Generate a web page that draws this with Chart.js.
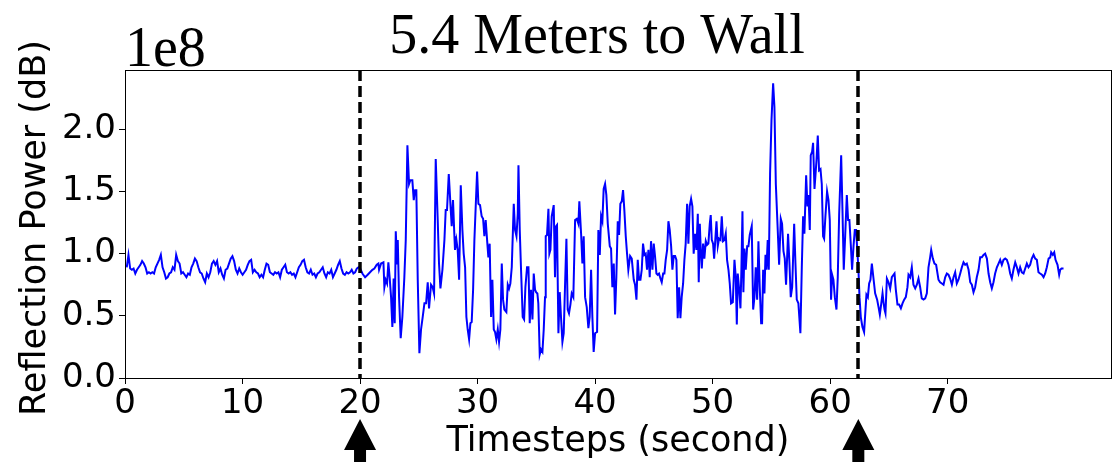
<!DOCTYPE html>
<html>
<head>
<meta charset="utf-8">
<script src="https://cdn.jsdelivr.net/npm/chart.js@4/dist/chart.umd.min.js"></script>
<style>
  html, body { margin: 0; padding: 0; background: #fff; }
  #wrap { width: 1114px; height: 462px; }
</style>
</head>
<body>
<div id="wrap"><canvas id="chart" width="1114" height="462"></canvas></div>
<script>
// Reflection power (units of 1e8) over time.
// Quiet period before the first marker: evenly sampled from BASE_T0 with BASE_DT.
var BASE_T0 = 0.15;
var BASE_DT = 0.145;
var baseVals = [
	0.89,0.99,0.88,0.87,0.88,0.84,0.87,0.89,0.91,0.94,
	0.92,0.89,0.84,0.85,0.84,0.85,0.84,0.89,0.92,0.95,
	0.99,0.89,0.85,0.80,0.81,0.84,0.85,0.89,0.87,0.99,
	0.94,0.92,0.84,0.85,0.83,0.81,0.84,0.83,0.89,0.92,
	0.96,0.94,0.89,0.85,0.84,0.80,0.77,0.84,0.81,0.85,
	0.92,0.94,0.91,0.94,0.85,0.88,0.83,0.80,0.87,0.88,
	0.92,0.96,0.98,0.94,0.87,0.84,0.88,0.85,0.83,0.85,
	0.87,0.91,0.94,0.95,0.85,0.87,0.85,0.84,0.81,0.83,
	0.81,0.87,0.92,0.91,0.85,0.84,0.83,0.85,0.84,0.85,
	0.81,0.87,0.89,0.91,0.85,0.84,0.85,0.83,0.84,0.81,
	0.85,0.89,0.91,0.94,0.95,0.89,0.85,0.84,0.87,0.83,
	0.84,0.81,0.84,0.85,0.87,0.89,0.84,0.81,0.85,0.84,
	0.87,0.81,0.84,0.87,0.91,0.94,0.88,0.84,0.83,0.85,
	0.84,0.85,0.87,0.84,0.85,0.88,0.89,0.88
];

// Person walking between the two markers.
var burstT = [
	20.20,20.43,20.65,20.85,21.05,21.22,21.42,21.56,21.62,21.79,21.99,22.07,22.18,22.30,22.41,22.52,22.64,22.75,22.86,22.95,
	23.04,23.15,23.21,23.32,23.46,23.60,23.77,23.89,24.03,24.17,24.28,24.45,24.57,24.68,24.79,24.91,25.05,25.19,25.33,25.48,
	25.62,25.76,25.87,26.04,26.18,26.30,26.44,26.61,26.72,26.84,27.01,27.18,27.29,27.40,27.55,27.69,27.80,27.91,28.03,28.08,
	28.20,28.31,28.43,28.57,28.71,28.82,28.94,29.05,29.16,29.28,29.39,29.50,29.62,29.73,29.96,30.07,30.21,30.35,30.47,30.58,
	30.69,30.81,30.92,31.03,31.15,31.26,31.38,31.49,31.60,31.72,31.83,31.94,32.06,32.17,32.28,32.45,32.57,32.68,32.79,32.91,
	33.08,33.19,33.31,33.42,33.48,33.59,33.70,33.84,33.96,34.07,34.21,34.33,34.44,34.55,34.67,34.78,34.89,
	34.98,35.09,35.17,35.29,35.40,35.52,35.63,35.74,35.80,35.91,36.03,36.11,36.20,36.31,36.48,36.59,36.68,36.76,36.88,36.99,
	37.10,37.22,37.33,37.44,37.56,37.67,37.78,37.90,38.01,38.15,38.30,38.44,38.58,38.66,38.81,38.92,39.03,39.15,39.29,39.43,
	39.54,39.66,39.77,39.88,40.00,40.17,40.28,40.40,40.51,40.62,40.73,40.85,40.96,41.08,41.25,41.36,41.47,41.59,41.70,41.81,
	41.93,42.04,42.15,42.27,42.38,42.49,42.61,42.72,42.83,42.98,43.12,43.29,43.40,43.52,43.63,43.74,43.86,43.97,44.08,44.20,
	44.31,44.42,44.54,44.65,44.76,44.88,44.99,45.10,45.22,45.33,45.44,45.56,45.67,45.79,45.90,46.01,46.13,46.24,46.35,46.47,
	46.58,46.69,46.81,46.92,47.03,47.15,47.26,47.37,47.49,47.60,47.71,47.83,47.94,48.05,48.17,48.28,48.39,
	48.51,48.62,48.74,48.82,48.91,48.99,49.08,49.19,49.30,49.42,49.53,49.64,49.76,49.84,49.93,50.04,50.13,50.21,50.33,50.44,
	50.55,50.67,50.78,50.89,51.01,51.12,51.23,51.35,51.46,51.57,51.72,51.86,51.97,52.06,52.14,52.26,52.37,52.45,52.54,52.62,
	52.71,52.82,52.94,53.05,53.16,53.33,53.45,53.56,53.67,53.79,53.90,54.01,54.13,54.21,54.30,54.41,54.50,54.58,54.69,54.78,
	54.89,55.01,55.15,55.26,55.38,55.52,55.66,55.80,55.91,56.03,56.14,56.25,56.42,56.54,56.65,56.77,56.94,57.05,57.16,57.30,
	57.47,57.59,57.70,57.81,57.96,58.07,58.16,58.27,58.35,58.47,58.55,58.67,58.84,58.95,59.06,59.18,59.29,59.40,59.49,59.60,
	59.74,59.86,59.97,60.08,60.17,60.28,60.40,60.54,60.65,60.77,60.94,61.05,61.16,61.28,61.42,61.53,61.64,61.76,61.87,61.99,
	62.10,62.21,62.33
];
var burstV = [
	0.84,0.81,0.83,0.85,0.87,0.88,0.91,0.92,0.87,0.92,0.93,0.73,0.79,0.76,0.93,0.81,0.65,0.41,0.80,0.44,
	1.18,0.92,1.11,0.65,0.32,0.49,0.81,1.11,1.87,1.56,1.59,1.59,1.43,1.51,1.51,0.79,0.20,0.39,0.49,0.60,
	0.60,0.77,0.56,0.75,0.73,0.68,1.76,1.27,0.92,0.72,0.87,1.11,1.35,1.35,1.64,1.40,1.22,1.43,1.14,1.03,
	1.11,1.03,0.79,1.55,1.19,1.00,0.89,0.49,0.39,0.31,0.44,0.45,0.71,1.11,1.66,1.40,1.39,1.30,1.28,1.14,
	1.27,1.11,0.97,1.08,0.49,0.79,0.39,0.37,0.31,0.39,0.29,0.39,0.92,0.63,0.55,0.53,0.75,0.72,0.76,0.89,
	1.40,1.19,1.14,1.32,1.71,1.19,0.87,0.49,0.47,0.73,0.89,0.89,0.44,0.71,0.47,0.84,0.71,
	0.69,0.68,0.60,0.19,0.23,0.21,0.39,0.65,1.14,1.15,1.36,1.00,1.03,1.30,1.39,0.81,1.22,1.23,0.36,0.69,
	0.49,0.29,0.36,0.73,1.12,0.55,0.52,0.59,0.68,0.65,1.27,1.28,1.24,1.42,1.16,0.92,1.14,0.65,0.57,0.40,
	0.49,0.87,0.49,0.21,0.36,0.37,1.19,0.99,1.30,1.26,1.52,1.56,1.47,1.24,1.06,1.04,0.73,0.92,0.51,0.81,
	1.26,1.15,1.40,1.42,1.51,1.35,1.14,1.00,0.87,0.98,0.96,0.79,0.75,0.63,0.95,0.79,0.79,0.87,1.08,0.99,
	1.00,0.87,1.03,0.81,1.10,0.87,1.08,0.98,0.84,0.83,0.84,0.80,0.77,0.84,0.84,0.95,1.03,1.26,1.19,1.06,
	0.87,0.98,0.98,0.95,0.48,0.73,0.48,0.65,0.76,0.95,1.08,1.40,1.08,1.38,1.44,1.38,1.00,
	1.16,1.03,1.32,0.77,1.24,1.03,0.88,1.08,0.96,1.10,1.07,1.08,1.24,1.31,1.11,1.08,0.96,1.08,1.26,1.06,
	1.12,1.11,1.30,1.10,1.11,1.16,0.95,0.87,0.76,0.60,0.61,0.95,0.81,0.43,0.84,0.71,0.56,0.87,1.34,0.69,
	1.04,0.87,1.06,1.06,1.15,1.22,0.55,0.65,0.89,0.63,1.10,0.73,0.44,0.44,0.87,0.68,0.99,0.87,1.11,0.87,
	1.64,2.07,2.37,2.18,1.56,1.24,0.91,1.28,1.24,1.02,0.96,0.75,1.16,0.92,0.65,0.73,1.24,0.92,0.63,0.60,
	0.36,0.89,1.30,1.16,1.63,1.38,1.47,1.19,1.79,1.82,1.89,1.52,1.75,1.95,1.67,1.68,1.56,1.14,1.12,1.30,
	1.50,1.43,1.27,0.63,0.83,0.79,0.65,0.55,0.81,1.32,1.79,1.35,0.87,1.14,1.47,1.27,1.27,1.07,0.87,1.06,
	1.19,1.19,1.00
];

// Settling after the second marker.
var tailT = [
	62.41,62.50,62.61,62.75,62.89,63.01,63.09,63.21,63.32,63.43,63.55,63.69,63.83,64.00,64.12,64.23,64.34,64.46,64.54,64.63,
	64.71,64.83,64.97,65.11,65.25,65.48,65.59,65.73,65.87,66.02,66.16,66.30,66.44,66.58,66.67,66.81,66.95,67.09,67.24,67.38,
	67.52,67.66,67.80,67.95,68.09,68.23,68.37,68.51,68.60,68.74,68.88,69.02,69.22,69.36,69.51,69.65,69.79,69.93,70.07,70.21,
	70.36,70.50,70.64,70.78,70.92,71.07,71.21,71.35,71.49,71.63,71.78,71.92,72.06,72.20,72.34,72.48,72.63,72.77,72.91,73.05,
	73.19,73.34,73.48,73.62,73.76,73.90,74.04,74.19,74.33,74.47,74.61,74.75,74.90,75.04,75.18,75.32,75.46,75.60,75.75,75.89,
	76.03,76.17,76.31,76.46,76.60,76.74,76.88,77.02,77.16,77.31,77.45,77.59,77.73,77.87,78.02,78.16,78.30,78.44,78.59,78.73,
	78.81,78.95,79.07,79.18,79.35,79.49,79.58,79.69,79.86
];
var tailV = [
	0.87,0.65,0.49,0.41,0.37,0.55,0.67,0.65,0.76,0.79,0.92,0.80,0.68,0.63,0.57,0.51,0.59,0.68,0.61,0.55,
	0.52,0.80,0.77,0.72,0.81,0.84,0.71,0.59,0.59,0.56,0.60,0.63,0.65,0.73,0.83,0.81,0.89,0.75,0.72,0.75,
	0.80,0.73,0.64,0.63,0.64,0.68,0.89,0.97,1.03,0.96,0.92,0.91,0.79,0.77,0.76,0.75,0.81,0.84,0.83,0.80,
	0.75,0.81,0.85,0.76,0.79,0.84,0.89,0.93,0.91,0.92,0.87,0.77,0.75,0.69,0.73,0.81,0.87,0.97,0.97,0.99,
	1.00,0.96,0.84,0.77,0.72,0.77,0.84,0.89,0.92,0.95,0.91,0.95,0.96,0.95,0.91,0.84,0.80,0.87,0.93,0.89,
	0.84,0.89,0.85,0.84,0.88,0.92,0.89,0.91,0.96,0.99,0.96,0.95,0.85,0.84,0.83,0.81,0.84,0.89,0.96,0.97,
	1.01,0.99,1.01,0.95,0.91,0.83,0.87,0.88,0.88
];

var markers = [ 20, 62.4 ];
var xTicks  = [ 0, 10, 20, 30, 40, 50, 60, 70 ];
var yTicks  = [ 0, 0.5, 1.0, 1.5, 2.0 ];
var X_MAX   = 83.9;
var Y_MAX   = 2.476;

var TITLE   = '5.4 Meters to Wall';
var X_LABEL = 'Timesteps (second)';
var Y_LABEL = 'Reflection Power (dB)';
var OFFSET  = '1e8';

var SANS  = '"DejaVu Sans", sans-serif';
var SERIF = '"Liberation Serif", "Times New Roman", serif';

var points = [];
for ( var i = 0; i < baseVals.length; i++ ) {
	points.push( { x: BASE_T0 + i * BASE_DT, y: baseVals[ i ] } );
}
for ( var j = 0; j < burstT.length; j++ ) {
	points.push( { x: burstT[ j ], y: burstV[ j ] } );
}
for ( var k = 0; k < tailT.length; k++ ) {
	points.push( { x: tailT[ k ], y: tailV[ k ] } );
}

var decor = {
	id: 'decor',
	afterDatasetsDraw: function ( chart ) {
		var ctx  = chart.ctx;
		var area = chart.chartArea;
		var xs   = chart.scales.x;

		// dashed markers
		ctx.save();
		ctx.strokeStyle = '#000';
		ctx.lineWidth   = 3.5;
		ctx.setLineDash( [ 11, 5 ] );
		markers.forEach( function ( m ) {
			var px = Math.round( xs.getPixelForValue( m ) );
			ctx.beginPath();
			ctx.moveTo( px, area.top );
			ctx.lineTo( px, area.bottom );
			ctx.stroke();
		} );
		ctx.restore();
	},
	afterDraw: function ( chart ) {
		var ctx  = chart.ctx;
		var area = chart.chartArea;
		var xs   = chart.scales.x;

		ctx.save();
		// axes frame
		ctx.strokeStyle = '#000';
		ctx.lineWidth   = 1;
		ctx.strokeRect( area.left + 0.5, area.top + 0.5, area.right - area.left, area.bottom - area.top );

		// arrows under the markers
		ctx.fillStyle = '#000';
		markers.forEach( function ( m ) {
			var px = xs.getPixelForValue( m );
			ctx.beginPath();
			ctx.moveTo( px, 419 );
			ctx.lineTo( px + 16, 450 );
			ctx.lineTo( px + 6, 450 );
			ctx.lineTo( px + 6, 470 );
			ctx.lineTo( px - 6, 470 );
			ctx.lineTo( px - 6, 450 );
			ctx.lineTo( px - 16, 450 );
			ctx.closePath();
			ctx.fill();
		} );

		// title and offset text
		ctx.fillStyle    = '#000';
		ctx.textBaseline = 'alphabetic';
		ctx.font         = '56px ' + SERIF;
		ctx.textAlign    = 'center';
		ctx.fillText( TITLE, 597, 53 );
		ctx.textAlign = 'left';
		ctx.fillText( OFFSET, area.left, 66 );

		// axis titles
		ctx.font      = '35px ' + SANS;
		ctx.textAlign = 'center';
		ctx.fillText( X_LABEL, ( area.left + area.right ) / 2, 451 );

		ctx.translate( 36, 228 );
		ctx.rotate( -Math.PI / 2 );
		ctx.textBaseline = 'middle';
		ctx.fillText( Y_LABEL, 0, 0 );
		ctx.restore();
	},
};

new Chart( document.getElementById( 'chart' ), {
	type: 'line',
	data: {
		datasets: [ {
			data:        points,
			borderColor: '#0000ff',
			borderWidth: 2,
			pointRadius: 0,
			tension:     0,
			fill:        false,
		} ],
	},
	options: {
		responsive:       false,
		animation:        false,
		devicePixelRatio: 1,
		layout:           { padding: { left: 0, top: 70, right: 3, bottom: 0 } },
		plugins:          {
			legend:  { display: false },
			tooltip: { enabled: false },
		},
		scales: {
			x: {
				type: 'linear',
				min:  0,
				max:  X_MAX,
				afterBuildTicks: function ( s ) {
					s.ticks = xTicks.map( function ( v ) { return { value: v }; } );
				},
				afterFit: function ( s ) { s.height = 84; },
				border: { display: false },
				grid:   { drawOnChartArea: false, tickLength: 6, color: '#000' },
				ticks:  {
					autoSkip:    false,
					maxRotation: 0,
					padding:     0,
					color:       '#000',
					font:        { family: SANS, size: 34 },
					callback:    function ( v ) { return String( v ); },
				},
			},
			y: {
				min: 0,
				max: Y_MAX,
				afterBuildTicks: function ( s ) {
					s.ticks = yTicks.map( function ( v ) { return { value: v }; } );
				},
				afterFit: function ( s ) { s.width = 125; },
				border: { display: false },
				grid:   { drawOnChartArea: false, tickLength: 6, color: '#000' },
				ticks:  {
					padding:  3,
					color:    '#000',
					font:     { family: SANS, size: 34 },
					callback: function ( v ) { return v.toFixed( 1 ); },
				},
			},
		},
	},
	plugins: [ decor ],
} );
</script>
</body>
</html>
